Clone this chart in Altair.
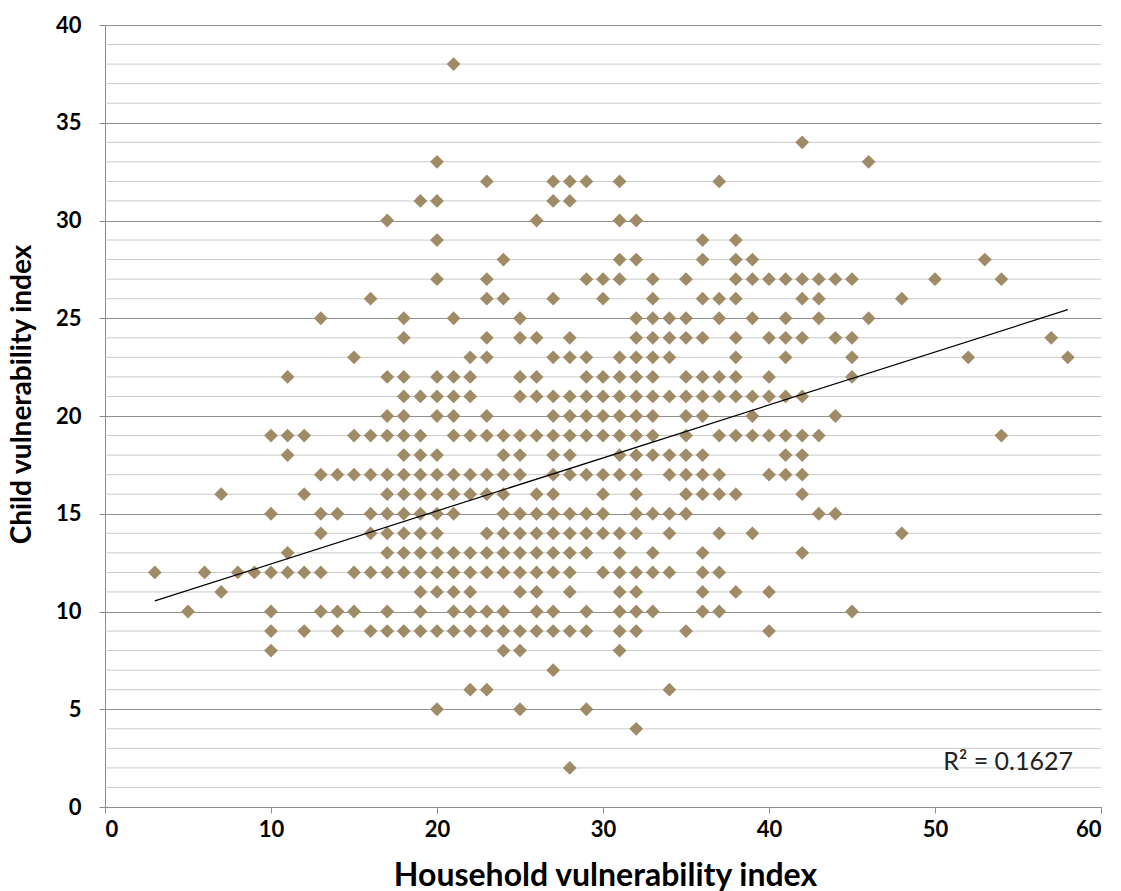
import altair as alt
import pandas as pd

# Household vulnerability index of every respondent, grouped by child vulnerability index
hh_38 = [21]
hh_34 = [42]
hh_33 = [20, 46]
hh_32 = [23, 27, 28, 29, 31, 37]
hh_31 = [19, 20, 27, 28]
hh_30 = [17, 26, 31, 32]
hh_29 = [20, 36, 38]
hh_28 = [24, 31, 32, 36, 38, 39, 53]
hh_27 = [20, 23, 29, 30, 31, 33, 35, 38, 39, 40, 41, 42, 43, 44, 45, 50, 54]
hh_26 = [16, 23, 24, 27, 30, 33, 36, 37, 38, 42, 43, 48]
hh_25 = [13, 18, 21, 25, 32, 33, 34, 35, 37, 39, 41, 43, 46]
hh_24 = [18, 23, 25, 26, 28, 32, 33, 34, 35, 36, 38, 40, 41, 42, 44, 45, 57]
hh_23 = [15, 22, 23, 27, 28, 29, 31, 32, 33, 34, 38, 41, 45, 52, 58]
hh_22 = [11, 17, 18, 20, 21, 22, 25, 26, 29, 30, 31, 32, 33, 35, 36, 37, 38, 40, 45]
hh_21 = [18, 19, 20, 21, 22, 25, 26, 27, 28, 29, 30, 31, 32, 33, 34, 35, 36, 37,
         38, 39, 40, 41, 42]
hh_20 = [17, 18, 20, 21, 23, 27, 28, 29, 30, 31, 32, 33, 35, 36, 39, 44]
hh_19 = [10, 11, 12, 15, 16, 17, 18, 19, 21, 22, 23, 24, 25, 26, 27, 28, 29, 30,
         31, 32, 33, 35, 37, 38, 39, 40, 41, 42, 43, 54]
hh_18 = [11, 18, 19, 20, 24, 25, 27, 28, 31, 32, 33, 34, 35, 36, 41, 42]
hh_17 = [13, 14, 15, 16, 17, 18, 19, 20, 21, 22, 23, 24, 25, 27, 28, 29, 30, 31,
         32, 34, 35, 36, 37, 40, 41, 42]
hh_16 = [7, 12, 17, 18, 19, 20, 21, 22, 23, 24, 26, 27, 30, 32, 35, 36, 37, 38, 42]
hh_15 = [10, 13, 14, 16, 17, 18, 19, 20, 21, 24, 25, 26, 27, 28, 29, 30, 32, 33,
         34, 35, 43, 44]
hh_14 = [13, 16, 17, 18, 19, 20, 23, 24, 25, 26, 27, 28, 29, 30, 31, 32, 34, 37, 39, 48]
hh_13 = [11, 17, 18, 19, 20, 21, 22, 23, 24, 25, 26, 27, 28, 29, 31, 33, 36, 42]
hh_12 = [3, 6, 8, 9, 10, 11, 12, 13, 15, 16, 17, 18, 19, 20, 21, 22, 23, 24, 25,
         26, 27, 28, 30, 31, 32, 33, 34, 36, 37]
hh_11 = [7, 19, 20, 21, 22, 25, 26, 28, 31, 32, 36, 38, 40]
hh_10 = [5, 10, 13, 14, 15, 17, 19, 21, 22, 23, 24, 26, 27, 29, 31, 32, 33, 36, 37, 45]
hh_9 = [10, 12, 14, 16, 17, 18, 19, 20, 21, 22, 23, 24, 25, 26, 27, 28, 29, 31, 32, 35, 40]
hh_8 = [10, 24, 25, 31]
hh_7 = [27]
hh_6 = [22, 23, 34]
hh_5 = [20, 25, 29]
hh_4 = [32]
hh_2 = [28]

child_levels = [38, 34, 33, 32, 31, 30, 29, 28, 27, 26, 25, 24, 23, 22, 21, 20,
                19, 18, 17, 16, 15, 14, 13, 12, 11, 10, 9, 8, 7, 6, 5, 4, 2]
household_groups = [hh_38, hh_34, hh_33, hh_32, hh_31, hh_30, hh_29, hh_28, hh_27,
                    hh_26, hh_25, hh_24, hh_23, hh_22, hh_21, hh_20, hh_19, hh_18,
                    hh_17, hh_16, hh_15, hh_14, hh_13, hh_12, hh_11, hh_10, hh_9,
                    hh_8, hh_7, hh_6, hh_5, hh_4, hh_2]

# linear trend line (least-squares fit over all respondents), end points
trend_x = [3, 58]
trend_y = [10.54, 25.44]
r2_label = "R² = 0.1627"

x_ticks = [0, 10, 20, 30, 40, 50, 60]
y_ticks = [0, 5, 10, 15, 20, 25, 30, 35, 40]
y_minor = [v for v in range(0, 41) if v % 5 != 0]

rows = []
for level, group in zip(child_levels, household_groups):
    for hh in group:
        rows.append({"household": hh, "child": level})
df = pd.DataFrame(rows)
trend_df = pd.DataFrame({"household": trend_x, "child": trend_y})

x_scale = alt.Scale(domain=[0, 60], nice=False)
y_scale = alt.Scale(domain=[0, 40], nice=False)

FONT = "Lato"
POINT_COLOR = "#A08B67"

x_axis = alt.Axis(
    values=x_ticks,
    grid=False,
    title="Household vulnerability index",
    tickSize=6,
    labelPadding=6,
    titleX=500,
    titleY=78,
    titleAlign="center",
    titleBaseline="alphabetic",
    titleFontSize=32,
)
y_axis = alt.Axis(
    values=y_ticks,
    grid=True,
    gridColor="#8f8f8f",
    gridWidth=1,
    title="Child vulnerability index",
    tickSize=6,
    labelPadding=18,
    titleX=-83,
    titleY=369,
    titleAngle=-90,
    titleAlign="center",
    titleBaseline="middle",
    titleFontSize=28,
)

# light gridlines at every unit between the labelled ones
minor_grid = alt.Chart(pd.DataFrame({"v": y_minor})).mark_rule(
    color="#cacaca", strokeWidth=1
).encode(
    x=alt.value(0),
    x2=alt.value(996),
    y=alt.Y("v:Q", scale=y_scale, axis=y_axis),
)

points = alt.Chart(df).mark_point(
    shape="diamond", filled=True, size=190, color=POINT_COLOR, opacity=1
).encode(
    x=alt.X("household:Q", scale=x_scale, axis=x_axis),
    y=alt.Y("child:Q", scale=y_scale, axis=y_axis),
)

trend = alt.Chart(trend_df).mark_line(color="black", strokeWidth=1.2).encode(
    x=alt.X("household:Q", scale=x_scale, axis=x_axis),
    y=alt.Y("child:Q", scale=y_scale, axis=y_axis),
)

r2_text = alt.Chart(pd.DataFrame({"label": [r2_label]})).mark_text(
    align="right", baseline="alphabetic", font=FONT, fontSize=25, color="#222222"
).encode(x=alt.value(968), y=alt.value(745), text="label:N")

chart = alt.layer(minor_grid, points, trend, r2_text).properties(
    width=996,
    height=782,
    autosize=alt.AutoSizeParams(type="none"),
    padding={"left": 105, "top": 25, "right": 20, "bottom": 84},
).configure_view(stroke=None).configure_axis(
    domainColor="#8a8a8a",
    tickColor="#8a8a8a",
    labelFont=FONT,
    labelFontWeight="bold",
    labelFontSize=22,
    labelColor="black",
    titleFont=FONT,
    titleFontWeight="bold",
    titleColor="black",
)

chart.save("out.html", embed_options={"renderer": "svg", "actions": False})
